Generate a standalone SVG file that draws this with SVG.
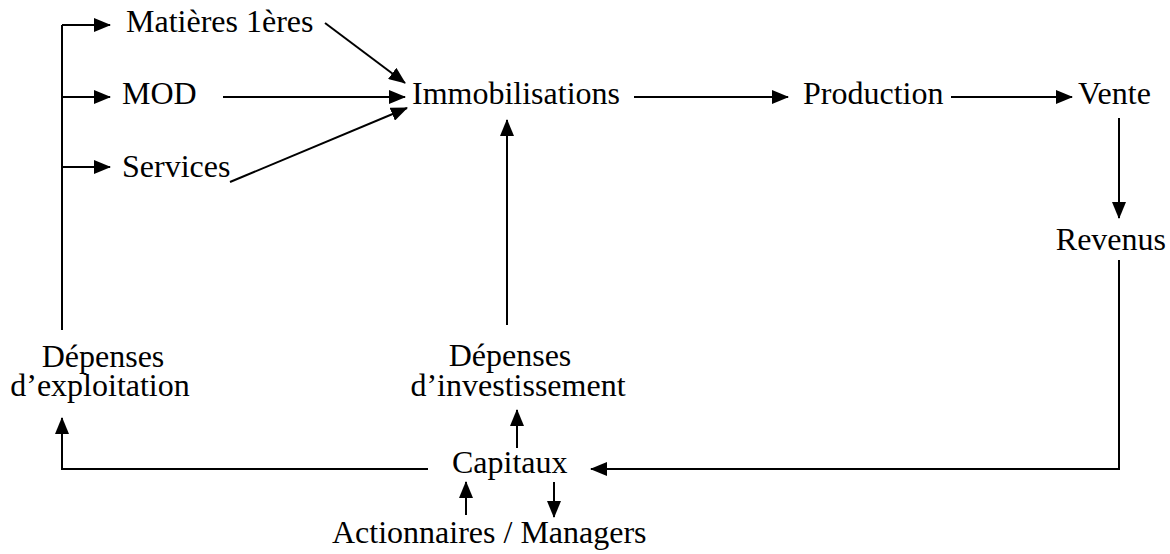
<svg xmlns="http://www.w3.org/2000/svg" width="1170" height="554" viewBox="0 0 1170 554">
  <style>
    text { font-family: "Liberation Serif", "Times New Roman", serif; font-size: 32px; fill: #000; }
    .mid { text-anchor: middle; }
    .end { text-anchor: end; }
    .link { fill: none; stroke: #000; stroke-width: 2; }
  </style>
  <defs>
    <marker id="head" markerUnits="userSpaceOnUse" markerWidth="17" markerHeight="14" refX="16" refY="7" orient="auto">
      <path d="M0,0 L17,7 L0,14 Z" fill="#000"/>
    </marker>
  </defs>

  <rect width="1170" height="554" fill="#fff"/>

  <!-- nodes -->
  <g id="matieres"><text x="126" y="32">Matières 1ères</text></g>
  <g id="mod"><text x="122" y="104">MOD</text></g>
  <g id="services"><text x="122" y="177">Services</text></g>
  <g id="immobilisations"><text x="412" y="104">Immobilisations</text></g>
  <g id="production"><text x="803" y="104">Production</text></g>
  <g id="vente"><text x="1078" y="104">Vente</text></g>
  <g id="revenus"><text class="end" x="1166" y="250">Revenus</text></g>
  <g id="depenses-exploitation">
    <text class="mid"><tspan x="103" y="367">Dépenses</tspan><tspan x="100" y="396">d’exploitation</tspan></text>
  </g>
  <g id="depenses-investissement">
    <text class="mid"><tspan x="510" y="366">Dépenses</tspan><tspan x="518" y="396">d’investissement</tspan></text>
  </g>
  <g id="capitaux"><text x="452" y="473">Capitaux</text></g>
  <g id="actionnaires"><text x="332" y="543">Actionnaires / Managers</text></g>

  <!-- connectors -->
  <g id="connectors">
    <path class="link" d="M62,330 V25"/>
    <path class="link" d="M62,25 H110" marker-end="url(#head)"/>
    <path class="link" d="M62,97 H110" marker-end="url(#head)"/>
    <path class="link" d="M62,167 H110" marker-end="url(#head)"/>
    <path class="link" d="M325,23 L405,83" marker-end="url(#head)"/>
    <path class="link" d="M223,97 H405" marker-end="url(#head)"/>
    <path class="link" d="M230,182 L407,108" marker-end="url(#head)"/>
    <path class="link" d="M634,97 H788" marker-end="url(#head)"/>
    <path class="link" d="M951,97 H1072" marker-end="url(#head)"/>
    <path class="link" d="M1119,118 V218" marker-end="url(#head)"/>
    <path class="link" d="M1119,260 V469 H591" marker-end="url(#head)"/>
    <path class="link" d="M428,469 H62 V418" marker-end="url(#head)"/>
    <path class="link" d="M517,448 V410" marker-end="url(#head)"/>
    <path class="link" d="M507,325 V120" marker-end="url(#head)"/>
    <path class="link" d="M466,515 V482" marker-end="url(#head)"/>
    <path class="link" d="M554,482 V517" marker-end="url(#head)"/>
  </g>
</svg>
